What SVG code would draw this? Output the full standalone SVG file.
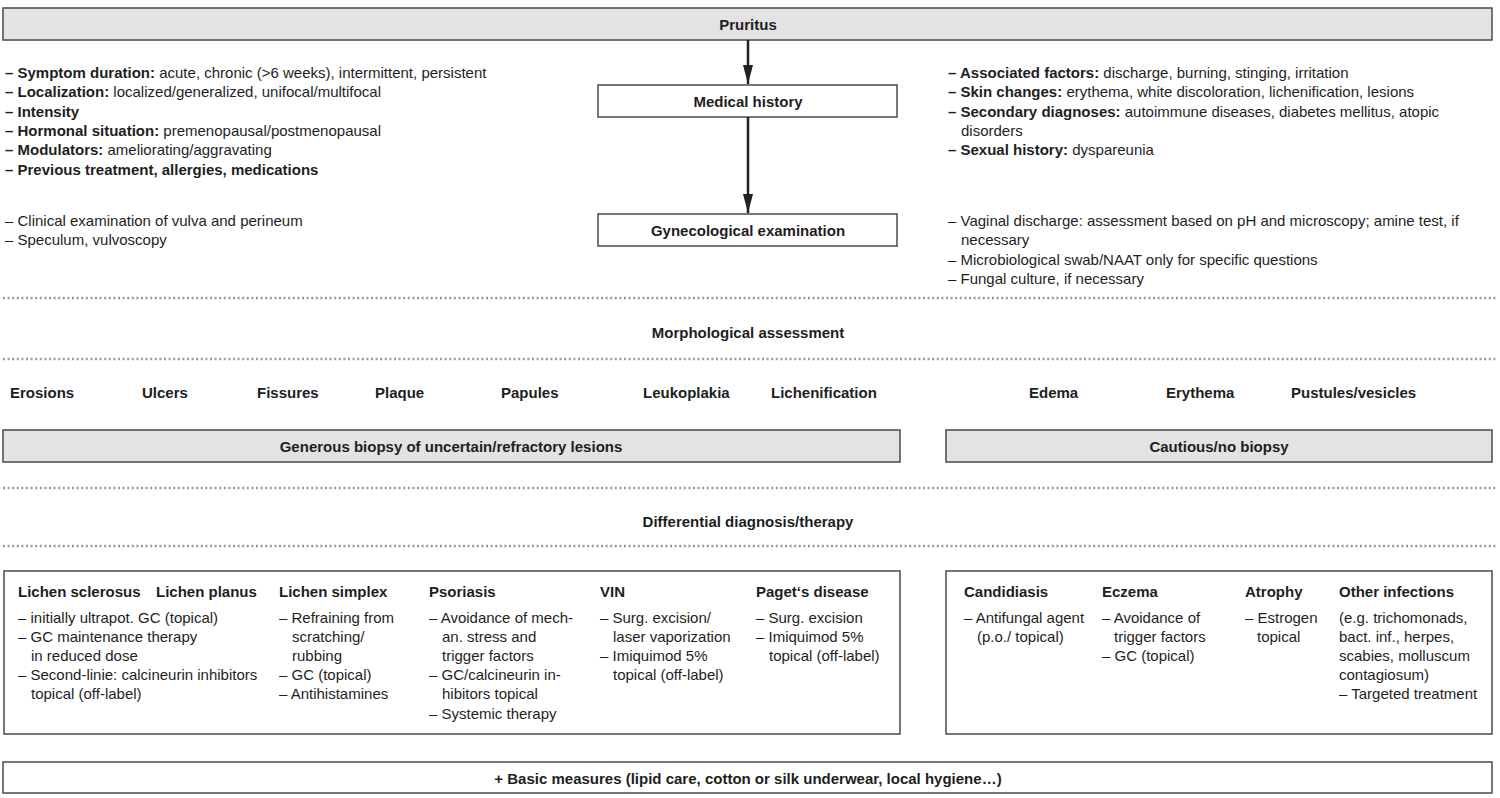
<svg xmlns="http://www.w3.org/2000/svg" width="1500" height="798" viewBox="0 0 1500 798">
<style>
text{font-family:"Liberation Sans",Arial,sans-serif;font-size:15px;fill:#1e1e1e}
.b{font-weight:bold}
.c{text-anchor:middle}
.gray{fill:#e3e3e3;stroke:#4a4a4a;stroke-width:1.5}
.white{fill:#fff;stroke:#4a4a4a;stroke-width:1.5}
.dot{stroke:#9a9a9a;stroke-width:2.5;stroke-dasharray:2 2.6;fill:none}
.conn{stroke:#222;stroke-width:2.5;fill:none}
</style>
<defs>
<marker id="ah" viewBox="0 0 19 10" refX="19" refY="5" markerWidth="19" markerHeight="10" markerUnits="userSpaceOnUse" orient="auto">
<path d="M0,0 L19,5 L0,10 Z" fill="#222"/>
</marker>
</defs>
<rect width="1500" height="798" fill="#fff"/>

<g id="pruritus">
<rect class="gray" x="3" y="8" width="1489" height="32"/>
<text class="b c" x="748" y="30">Pruritus</text>
</g>

<g id="history-left">
<text x="5" y="78"><tspan class="b">– Symptom duration:</tspan> acute, chronic (&gt;6 weeks), intermittent, persistent</text>
<text x="5" y="97"><tspan class="b">– Localization:</tspan> localized/generalized, unifocal/multifocal</text>
<text x="5" y="117" class="b">– Intensity</text>
<text x="5" y="136"><tspan class="b">– Hormonal situation:</tspan> premenopausal/postmenopausal</text>
<text x="5" y="155"><tspan class="b">– Modulators:</tspan> ameliorating/aggravating</text>
<text x="5" y="175" class="b">– Previous treatment, allergies, medications</text>
</g>

<g id="medical-history">
<rect class="white" x="598" y="85" width="299" height="32"/>
<text class="b c" x="748" y="107">Medical history</text>
</g>

<g id="history-right">
<text x="948" y="78"><tspan class="b">– Associated factors:</tspan> discharge, burning, stinging, irritation</text>
<text x="948" y="97"><tspan class="b">– Skin changes:</tspan> erythema, white discoloration, lichenification, lesions</text>
<text x="948" y="117"><tspan class="b">– Secondary diagnoses:</tspan> autoimmune diseases, diabetes mellitus, atopic</text>
<text x="961" y="136">disorders</text>
<text x="948" y="155"><tspan class="b">– Sexual history:</tspan> dyspareunia</text>
</g>

<g id="exam-left">
<text x="5" y="226">– Clinical examination of vulva and perineum</text>
<text x="5" y="245">– Speculum, vulvoscopy</text>
</g>

<g id="gyn-exam">
<rect class="white" x="598" y="214" width="299" height="32"/>
<text class="b c" x="748" y="236">Gynecological examination</text>
</g>

<g id="exam-right">
<text x="948" y="226">– Vaginal discharge: assessment based on pH and microscopy; amine test, if</text>
<text x="961" y="245">necessary</text>
<text x="948" y="265">– Microbiological swab/NAAT only for specific questions</text>
<text x="948" y="284">– Fungal culture, if necessary</text>
</g>

<g id="separators">
<line class="dot" x1="3" y1="298" x2="1497" y2="298"/>
<line class="dot" x1="3" y1="359" x2="1497" y2="359"/>
<line class="dot" x1="3" y1="488" x2="1497" y2="488"/>
<line class="dot" x1="3" y1="546" x2="1497" y2="546"/>
</g>

<g id="morph-title">
<text class="b c" x="748" y="338">Morphological assessment</text>
</g>

<g id="morph-items">
<text class="b" x="10" y="398">Erosions</text>
<text class="b" x="142" y="398">Ulcers</text>
<text class="b" x="257" y="398">Fissures</text>
<text class="b" x="375" y="398">Plaque</text>
<text class="b" x="501" y="398">Papules</text>
<text class="b" x="643" y="398">Leukoplakia</text>
<text class="b" x="771" y="398">Lichenification</text>
<text class="b" x="1029" y="398">Edema</text>
<text class="b" x="1166" y="398">Erythema</text>
<text class="b" x="1291" y="398">Pustules/vesicles</text>
</g>

<g id="biopsy-generous">
<rect class="gray" x="3" y="430" width="897" height="32"/>
<text class="b c" x="451" y="452">Generous biopsy of uncertain/refractory lesions</text>
</g>

<g id="biopsy-cautious">
<rect class="gray" x="946" y="430" width="546" height="32"/>
<text class="b c" x="1219" y="452">Cautious/no biopsy</text>
</g>

<g id="dd-title">
<text class="b c" x="748" y="527">Differential diagnosis/therapy</text>
</g>

<g id="dd-left">
<rect class="white" x="4" y="571" width="896" height="163"/>
<text class="b" x="18" y="597">Lichen sclerosus</text>
<text class="b" x="156" y="597">Lichen planus</text>
<text x="18" y="623">– initially ultrapot. GC (topical)</text>
<text x="18" y="642">– GC maintenance therapy</text>
<text x="31" y="661">in reduced dose</text>
<text x="18" y="680">– Second-linie: calcineurin inhibitors</text>
<text x="31" y="699">topical (off-label)</text>

<text class="b" x="279" y="597">Lichen simplex</text>
<text x="279" y="623">– Refraining from</text>
<text x="292" y="642">scratching/</text>
<text x="292" y="661">rubbing</text>
<text x="279" y="680">– GC (topical)</text>
<text x="279" y="699">– Antihistamines</text>

<text class="b" x="429" y="597">Psoriasis</text>
<text x="429" y="623">– Avoidance of mech-</text>
<text x="442" y="642">an. stress and</text>
<text x="442" y="661">trigger factors</text>
<text x="429" y="680">– GC/calcineurin in-</text>
<text x="442" y="699">hibitors topical</text>
<text x="429" y="719">– Systemic therapy</text>

<text class="b" x="600" y="597">VIN</text>
<text x="600" y="623">– Surg. excision/</text>
<text x="613" y="642">laser vaporization</text>
<text x="600" y="661">– Imiquimod 5%</text>
<text x="613" y="680">topical (off-label)</text>

<text class="b" x="756" y="597">Paget‘s disease</text>
<text x="756" y="623">– Surg. excision</text>
<text x="756" y="642">– Imiquimod 5%</text>
<text x="769" y="661">topical (off-label)</text>
</g>

<g id="dd-right">
<rect class="white" x="946" y="571" width="546" height="163"/>
<text class="b" x="964" y="597">Candidiasis</text>
<text x="964" y="623">– Antifungal agent</text>
<text x="977" y="642">(p.o./ topical)</text>

<text class="b" x="1102" y="597">Eczema</text>
<text x="1102" y="623">– Avoidance of</text>
<text x="1114" y="642">trigger factors</text>
<text x="1102" y="661">– GC (topical)</text>

<text class="b" x="1245" y="597">Atrophy</text>
<text x="1245" y="623">– Estrogen</text>
<text x="1257" y="642">topical</text>

<text class="b" x="1339" y="597">Other infections</text>
<text x="1339" y="623">(e.g. trichomonads,</text>
<text x="1339" y="642">bact. inf., herpes,</text>
<text x="1339" y="661">scabies, molluscum</text>
<text x="1339" y="680">contagiosum)</text>
<text x="1339" y="699">– Targeted treatment</text>
</g>

<g id="basic-measures">
<rect class="white" x="3" y="762" width="1489" height="31"/>
<text class="b c" x="748" y="784">+ Basic measures (lipid care, cotton or silk underwear, local hygiene…)</text>
</g>

<g id="connectors">
<line class="conn" x1="748" y1="40" x2="748" y2="84" marker-end="url(#ah)"/>
<line class="conn" x1="748" y1="117" x2="748" y2="213" marker-end="url(#ah)"/>
</g>
</svg>
